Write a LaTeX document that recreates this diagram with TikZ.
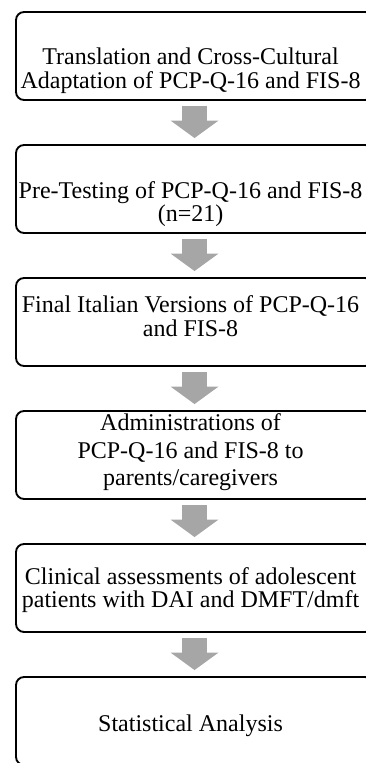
\documentclass[tikz,border=0pt]{standalone}
\usepackage{fontspec}
\setmainfont{Liberation Serif}
\usetikzlibrary{arrows.meta,positioning}
\definecolor{arrowgray}{RGB}{166,166,166}
% text of a stage, raised by #1
\newcommand{\stagetext}[2]{\raisebox{#1}[0pt][0pt]{\begin{tabular}{@{}c@{}}#2\end{tabular}}\hspace*{6pt}}

\begin{document}
\begin{tikzpicture}[node distance=99.75pt, semithick]
  \tikzstyle{stage}=[draw=black, line width=1.4pt, rounded corners=6pt, minimum width=267.75pt,
                     minimum height=66pt, inner sep=2pt, font=\fontsize{18}{17.25}\selectfont]
  \tikzstyle{flow}=[draw=arrowgray, line width=18.75pt, -{Triangle[width=35pt,length=13pt]},
                    shorten <=3.75pt, shorten >=4.5pt]

  \useasboundingbox (0,0) rectangle (274.5pt,-572.25pt);

  \node[stage] (trans) at (145.9pt,-42pt) {\stagetext{-16pt}{Translation and Cross-Cultural\\Adaptation of PCP-Q-16 and FIS-8}};
  \node[stage] (pretest) [below of=trans]   {\stagetext{-16.5pt}{Pre-Testing of PCP-Q-16 and FIS-8\\[-0.75pt](n=21)}};
  \node[stage] (final)   [below of=pretest] {\stagetext{-2.5pt}{Final Italian Versions of PCP-Q-16\\and FIS-8}};
  \node[stage] (admin)   [below of=final, font=\fontsize{18}{20.5}\selectfont]
                                            {\stagetext{-2.5pt}{Administrations of\\PCP-Q-16 and FIS-8 to\\parents/caregivers}};
  \node[stage] (clinic)  [below of=admin]   {\stagetext{-6.5pt}{Clinical assessments of adolescent\\patients with DAI and DMFT/dmft}};
  \node[stage] (stats)   [below of=clinic]  {\stagetext{-8.75pt}{Statistical Analysis}};

  \path (trans)   edge[flow] (pretest)
        (pretest) edge[flow] (final)
        (final)   edge[flow] (admin)
        (admin)   edge[flow] (clinic)
        (clinic)  edge[flow] (stats);
\end{tikzpicture}
\end{document}
